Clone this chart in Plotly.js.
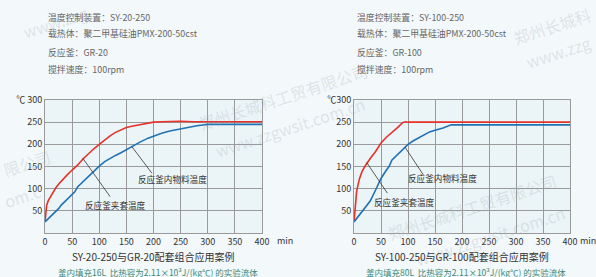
<!DOCTYPE html>
<html><head><meta charset="utf-8">
<script src="https://cdn.plot.ly/plotly-3.0.1.min.js"></script>
<style>html,body{margin:0;padding:0;background:#f3f8fa;}</style>
</head><body>
<div id="chart" style="width:596px;height:277px;"></div>
<script>
// Left chart: SY-20-250 + GR-20
const tJacketA = [0,1,3,6,10,15,20,25,30,40,50,60,70,80,90,100,110,120,130,140,150,160,175,190,200,215,230,250,275,300,325,350,375,400];
const vJacketA = [25,45,62,73,82,92,102,110,117,130,142,153,167,179,190,200,210,219,227,232,238,241,245,248,250,251,252,252,251,251,251,251,251,251];
const tMaterialA = [0,10,20,25,30,40,50,55,60,70,80,90,100,110,120,130,140,150,160,175,190,200,215,230,250,265,280,300,325,350,400];
const vMaterialA = [25,37,48,55,63,75,87,93,104,116,129,140,151,161,169,175,181,188,195,205,214,219,225,230,235,238,242,245,245,245,245];
// Right chart: SY-100-250 + GR-100
const tJacketB = [0,2,5,10,15,20,25,30,40,50,60,70,80,90,95,100,110,125,150,200,250,300,350,400];
const vJacketB = [25,60,95,122,139,150,160,168,184,203,216,226,237,249,251,250,250,250,250,250,250,250,250,250];
const tMaterialB = [0,10,20,30,40,50,60,65,70,75,80,90,100,110,120,130,140,150,165,180,200,250,300,350,400];
const vMaterialB = [25,41,55,72,97,123,142,150,164,170,176,189,200,208,215,222,228,232,237,244,244,244,244,244,244];

const xTicks = [0,50,100,150,200,250,300,350,400];
const yTicks = [50,100,150,200,250,300];
const yTickTextA = ['50','100','150','200','250','℃ 300'];
const yTickTextB = ['50','100','150','200','250','℃300'];

const headerA = ['温度控制装置：SY-20-250','载热体：聚二甲基硅油PMX-200-50cst','反应釜：GR-20','搅拌速度：100rpm'];
const headerB = ['温度控制装置：SY-100-250','载热体：聚二甲基硅油PMX-200-50cst','反应釜：GR-100','搅拌速度：100rpm'];
const titleA = 'SY-20-250与GR-20配套组合应用案例';
const titleB = 'SY-100-250与GR-100配套组合应用案例';
const subA = '釜内填充16L  比热容为2.11×10³J/(kg℃) 的实验流体';
const subB = '釜内填充80L  比热容为2.11×10³J/(kg℃) 的实验流体';
const labelMaterial = '反应釜内物料温度';
const labelJacket = '反应釜夹套温度';

const W=596,H=277,ML=45,MR=26,MT=100,MB=44;
const PW=W-ML-MR, PH=H-MT-MB;
const px = x => (x-ML)/PW;
const py = y => (H-MB-y)/PH;
const FONT = '"Noto Sans CJK SC","Noto Sans",sans-serif';
const RED='#e5322b', BLUE='#1f72b4';

const traces = [
  {x:tJacketA,y:vJacketA,xaxis:'x',yaxis:'y',mode:'lines',line:{color:RED,width:1.6},hoverinfo:'skip'},
  {x:tMaterialA,y:vMaterialA,xaxis:'x',yaxis:'y',mode:'lines',line:{color:BLUE,width:1.6},hoverinfo:'skip'},
  {x:tJacketB,y:vJacketB,xaxis:'x2',yaxis:'y2',mode:'lines',line:{color:RED,width:1.6},hoverinfo:'skip'},
  {x:tMaterialB,y:vMaterialB,xaxis:'x2',yaxis:'y2',mode:'lines',line:{color:BLUE,width:1.6},hoverinfo:'skip'}
];

function xax(domain, anchor){
  return {domain:domain, anchor:anchor, range:[0,400], tickvals:xTicks, showgrid:true, gridcolor:'#9a9a9a', gridwidth:1,
    zeroline:false, showline:true, linecolor:'#9a9a9a', linewidth:1, mirror:true, ticks:'', fixedrange:true,
    tickfont:{family:FONT,size:9,color:'#333'}};
}
function yax(anchor, text){
  return {anchor:anchor, range:[0,300], tickvals:yTicks, ticktext:text, showgrid:true, gridcolor:'#9a9a9a', gridwidth:1,
    zeroline:false, showline:true, linecolor:'#9a9a9a', linewidth:1, mirror:true, ticks:'', fixedrange:true,
    tickfont:{family:FONT,size:9,color:'#333'}};
}

const ann = [];
function txt(x,y,t,opt){
  ann.push(Object.assign({xref:'paper',yref:'paper',x:px(x),y:py(y),text:t,showarrow:false,
    font:{family:FONT,size:8.9,color:'#666'},xanchor:'left',yanchor:'middle'},opt||{}));
}
// Watermarks (only the parts visible inside the frame)
const wmC='rgba(160,172,182,0.28)';
function wm(x,y,t){ txt(x,y,t,{xanchor:'center',textangle:-18,font:{family:FONT,size:16,color:wmC}}); }
wm(55,22,'www.zzg');
wm(27,163,'限公司'); wm(22,196,'om.c');
wm(283,97,'郑州长城科工贸有限公司'); wm(290,127,'www.zzgwsit.com.cn');
wm(552,26,'郑州长城科'); wm(558,52,'www.zzg');
wm(472,207,'郑州长城科工贸有限公司'); wm(490,236,'www.zzgwsit.com.cn');

headerA.forEach((t,i)=>txt(46,[17,34,52,70][i],t));
headerB.forEach((t,i)=>txt(355,[17,34,52,70][i],t));
txt(153.5,256.5,titleA,{xanchor:'center',font:{family:FONT,size:10,color:'#333'}});
txt(462,256.5,titleB,{xanchor:'center',font:{family:FONT,size:10,color:'#333'}});
txt(158,272,subA,{xanchor:'center',font:{family:FONT,size:8.5,color:'#3a8a7c'}});
txt(466,272,subB,{xanchor:'center',font:{family:FONT,size:8.5,color:'#3a8a7c'}});
txt(275,240,'min',{font:{family:FONT,size:9,color:'#333'}});
txt(578,240,'min',{font:{family:FONT,size:9,color:'#333'}});

// curve labels (data coords)
function dl(xr,yr,x,y,t){ ann.push({xref:xr,yref:yr,x:x,y:y,text:t,showarrow:false,font:{family:FONT,size:8.6,color:'#333'}}); }
dl('x','y',235,122,labelMaterial);
dl('x','y',130,64,labelJacket);
dl('x2','y2',164,124,labelMaterial);
dl('x2','y2',94,69,labelJacket);

const lineS = {color:'#333',width:0.8};
const shapes = [
  {type:'line',xref:'x',yref:'y',x0:160,y0:195,x1:197,y1:135,line:lineS},
  {type:'line',xref:'x',yref:'y',x0:69.5,y0:169,x1:120,y1:82,line:lineS},
  {type:'line',xref:'x2',yref:'y2',x0:94.5,y0:193.5,x1:128.5,y1:131,line:lineS},
  {type:'line',xref:'x2',yref:'y2',x0:23.5,y0:159,x1:61.7,y1:90,line:lineS}
];

const layout = {
  width:W,height:H,margin:{l:ML,r:MR,t:MT,b:MB,pad:0},
  paper_bgcolor:'#f3f8fa', plot_bgcolor:'#ebf4f7', showlegend:false,
  xaxis:xax([0,217/PW],'y'), yaxis:yax('x',yTickTextA),
  xaxis2:xax([309/PW,1],'y2'), yaxis2:yax('x2',yTickTextB),
  annotations:ann, shapes:shapes, font:{family:FONT}
};
Plotly.newPlot('chart',traces,layout,{displayModeBar:false,staticPlot:true});
</script>
</body></html>
